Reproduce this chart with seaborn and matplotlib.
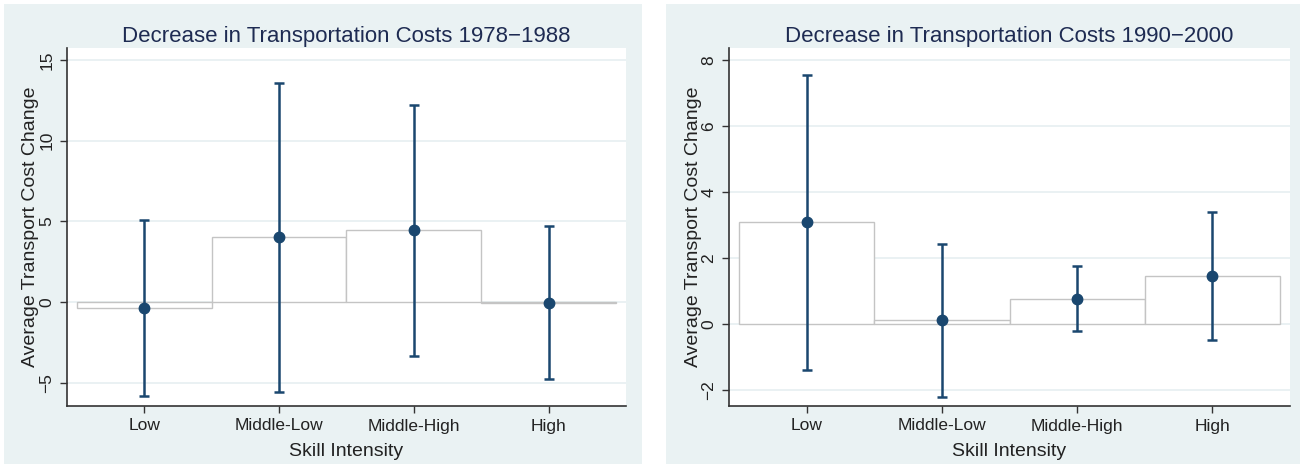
import numpy as np
import pandas as pd
import matplotlib.pyplot as plt
import seaborn as sns
from matplotlib.patches import Rectangle

# skill intensity groups, average transport cost change with 95% CI
skill = ["Low", "Middle-Low", "Middle-High", "High"]

mean_7888 = [-0.35, 4.0, 4.45, -0.05]
lo_7888 = [-5.8, -5.6, -3.35, -4.75]
hi_7888 = [5.1, 13.6, 12.2, 4.7]

mean_9000 = [3.1, 0.12, 0.77, 1.47]
lo_9000 = [-1.38, -2.2, -0.2, -0.48]
hi_9000 = [7.55, 2.42, 1.75, 3.4]

titles = ["Decrease in Transportation Costs 1978\u22121988",
          "Decrease in Transportation Costs 1990\u22122000"]

panel_bg = "#eaf2f3"
navy = "#1a476f"
title_col = "#1e2b52"

sns.set_style("white")
plt.rcParams["font.family"] = ["Liberation Sans", "DejaVu Sans"]
plt.rcParams["axes.unicode_minus"] = True

fig = plt.figure(figsize=(13.02, 4.68), dpi=100)
W, H = 1302, 468

# light panel backgrounds (stata-like graph region)
for x0, x1 in [(4, 642), (666, 1300)]:
    fig.patches.append(Rectangle((x0 / W, 4 / H), (x1 - x0) / W, (464 - 4) / H,
                                 transform=fig.transFigure, facecolor=panel_bg,
                                 edgecolor="none", zorder=-5))

ax1 = fig.add_axes([67 / W, 1 - 406 / H, (626 - 67) / W, (406 - 48) / H])
ax2 = fig.add_axes([729 / W, 1 - 406 / H, (1290 - 729) / W, (406 - 48) / H])

panels = [
    (ax1, mean_7888, lo_7888, hi_7888, (-6.45, 15.75), [-5, 0, 5, 10, 15]),
    (ax2, mean_9000, lo_9000, hi_9000, (-2.48, 8.36), [-2, 0, 2, 4, 6, 8]),
]

for i, (ax, m, lo, hi, ylim, yt) in enumerate(panels):
    df = pd.DataFrame({"skill": skill, "mean": m, "lo": lo, "hi": hi})
    ax.set_facecolor("white")
    for y in yt:
        ax.axhline(y, color="#e6eff1", lw=1.2, zorder=0)
    sns.barplot(data=df, x="skill", y="mean", ax=ax, width=1.0,
                color="white", edgecolor="#c4c4c4", linewidth=1.0,
                errorbar=None, zorder=1)
    pos = np.arange(len(skill))
    err = [df["mean"] - df["lo"], df["hi"] - df["mean"]]
    ax.errorbar(pos, df["mean"], yerr=err, fmt="o", color=navy, ecolor=navy,
                elinewidth=1.8, capsize=3.5, capthick=1.8, markersize=7.5,
                zorder=3)
    ax.set_xlim(-0.575, 3.575)
    ax.set_ylim(*ylim)
    ax.set_yticks(yt)
    ax.set_yticklabels([str(v) if v >= 0 else "\u2212" + str(-v) for v in yt],
                       rotation=90, va="center", fontsize=12.5, color="#222222")
    ax.set_xticks(pos)
    ax.set_xticklabels(skill, fontsize=12.5, color="#222222")
    ax.tick_params(axis="both", direction="out", length=5, width=1,
                   color="#333333", left=True, bottom=True, pad=4)
    ax.set_xlabel("Skill Intensity", fontsize=14, color="#222222", labelpad=7)
    ax.set_ylabel("Average Transport Cost Change", fontsize=14,
                  color="#222222", labelpad=0)
    ax.set_title(titles[i], fontsize=16, color=title_col, pad=4)
    for s in ["top", "right"]:
        ax.spines[s].set_visible(False)
    for s in ["left", "bottom"]:
        ax.spines[s].set_color("#333333")
        ax.spines[s].set_linewidth(1.2)

fig.savefig("out.png", dpi=100, facecolor="white")
